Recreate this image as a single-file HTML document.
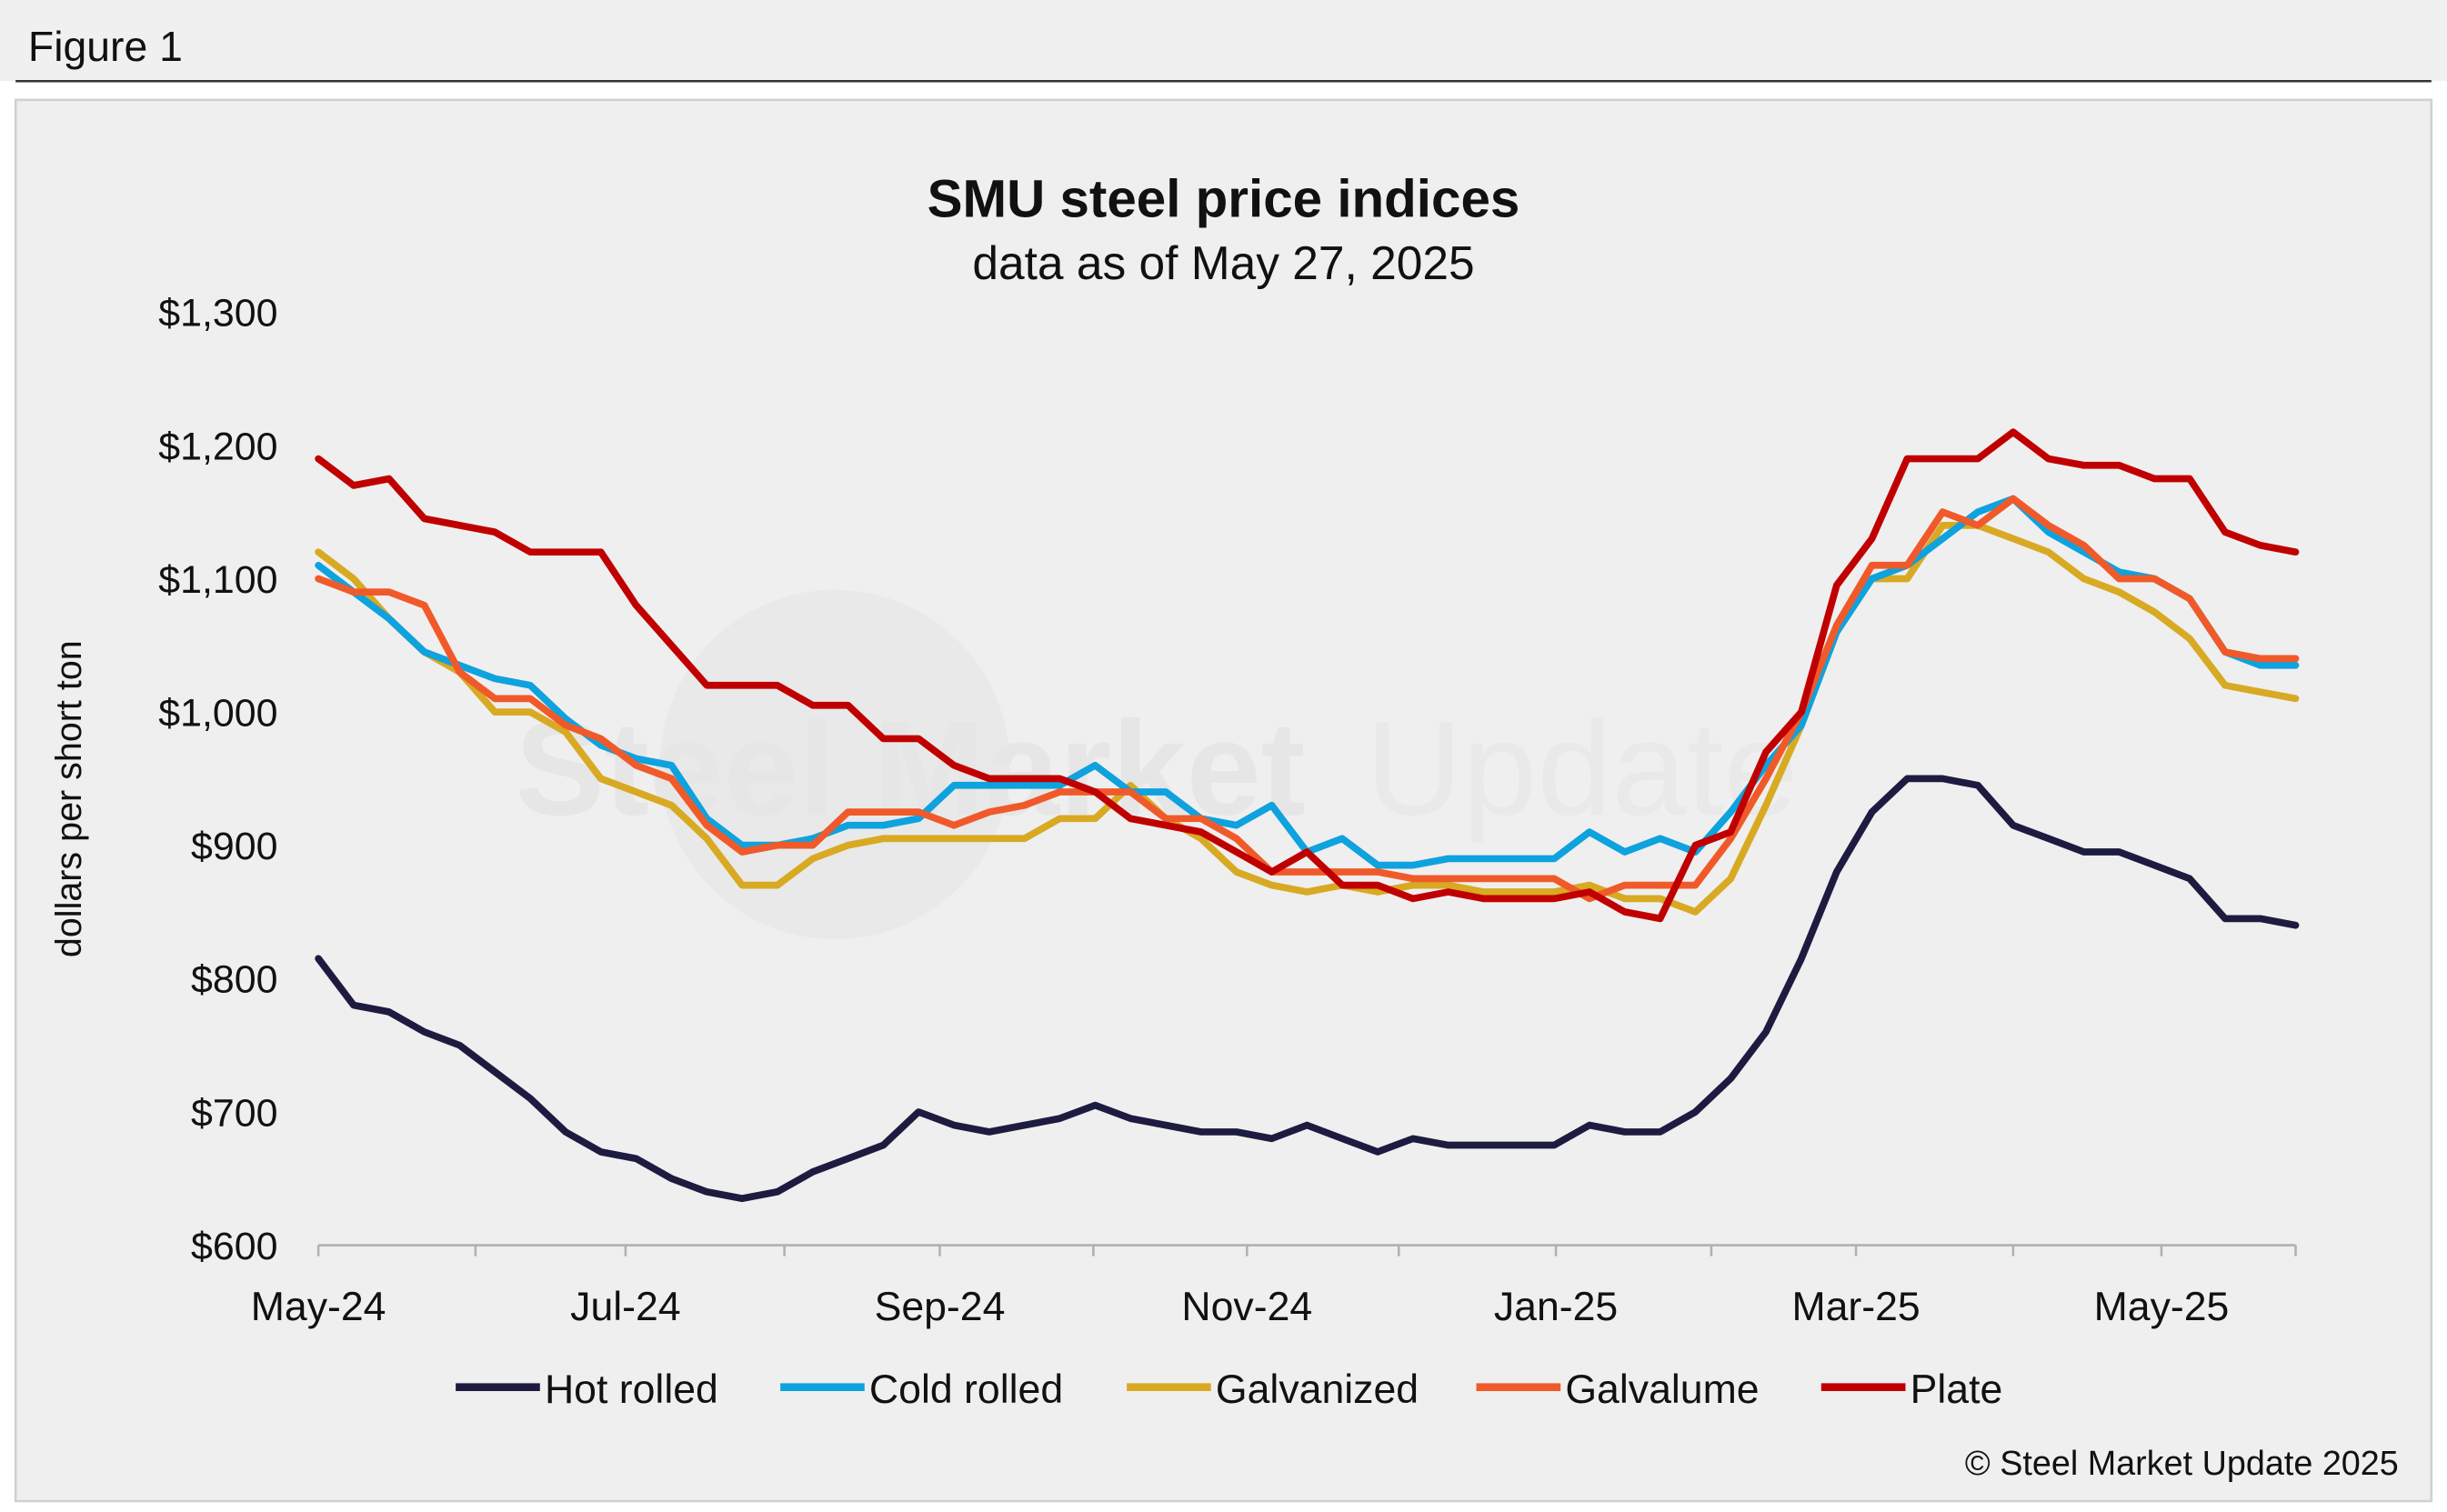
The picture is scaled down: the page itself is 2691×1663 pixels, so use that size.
<!DOCTYPE html>
<html><head><meta charset="utf-8"><style>
html,body{margin:0;padding:0;background:#fff;}
svg{display:block;font-family:"Liberation Sans",Arial,sans-serif;}
</style></head><body>
<svg id="chart" width="2691" height="1663" viewBox="0 0 1568 969" xmlns="http://www.w3.org/2000/svg">
<rect x="0" y="0" width="1568" height="969" fill="#ffffff"/>
<rect x="0" y="0" width="1568" height="52" fill="#f0f0f0"/>
<text x="18" y="39" font-size="27" fill="#111">Figure 1</text>
<line x1="10" y1="52" x2="1558" y2="52" stroke="#333" stroke-width="1.5"/>
<rect x="10" y="64" width="1548" height="898" fill="#efefef" stroke="#d0d0d0" stroke-width="1.5"/>
<g opacity="0.45">
<circle cx="535" cy="490" r="112" fill="#e2e2e2"/>
<text x="330" y="522" font-size="86" font-weight="bold" fill="#dcdcdc">Steel Market</text>
<text x="875" y="522" font-size="86" fill="#e3e3e3">Update</text>
</g>
<text x="784" y="139" text-anchor="middle" font-size="34" font-weight="bold" fill="#111">SMU steel price indices</text>
<text x="784" y="179" text-anchor="middle" font-size="30" fill="#111">data as of May 27, 2025</text>
<text transform="translate(52,512) rotate(-90)" text-anchor="middle" font-size="23" fill="#111">dollars per short ton</text>
<g id="axes"></g>
<g id="series"></g>
<g id="legend"></g>
<text x="1537" y="945" text-anchor="end" font-size="22" fill="#111">© Steel Market Update 2025</text>
</svg>
<script>
const yTicks=[600,700,800,900,1000,1100,1200,1300];
const xLabels=["May-24","Jul-24","Sep-24","Nov-24","Jan-25","Mar-25","May-25"];
const xLabelWeeks=[0,8.7,17.6,26.3,35.05,43.55,52.2];
const monthTickWeeks=[0,4.45,8.7,13.2,17.6,21.95,26.3,30.6,35.05,39.45,43.55,48,52.2,56];
const seriesNames=["Hot rolled","Cold rolled","Galvanized","Galvalume","Plate"];
const hotRolled=[815,780,775,760,750,730,710,685,670,665,650,640,635,640,655,665,675,700,690,685,690,695,705,695,690,685,685,680,690,680,670,680,675,675,675,675,690,685,685,700,725,760,815,880,925,950,950,945,915,905,895,895,885,875,845,845,840];
const coldRolled=[1110,1090,1070,1045,1035,1025,1020,995,975,965,960,920,900,900,905,915,915,920,945,945,945,945,960,940,940,920,915,930,895,905,885,885,890,890,890,890,910,895,905,895,925,960,990,1060,1100,1110,1130,1150,1160,1135,1120,1105,1100,1085,1045,1035,1035];
const galvanized=[1120,1100,1070,1045,1030,1000,1000,985,950,940,930,905,870,870,890,900,905,905,905,905,905,920,920,945,920,905,880,870,865,870,865,870,870,865,865,865,870,860,860,850,875,930,990,1060,1100,1100,1140,1140,1130,1120,1100,1090,1075,1055,1020,1015,1010];
const galvalume=[1100,1090,1090,1080,1030,1010,1010,990,980,960,950,915,895,900,900,925,925,925,915,925,930,940,940,940,920,920,905,880,880,880,880,875,875,875,875,875,860,870,870,870,905,950,1000,1065,1110,1110,1150,1140,1160,1140,1125,1100,1100,1085,1045,1040,1040];
const plate=[1190,1170,1175,1145,1140,1135,1120,1120,1120,1080,1050,1020,1020,1020,1005,1005,980,980,960,950,950,950,940,920,915,910,895,880,895,870,870,860,865,860,860,860,865,850,845,900,910,970,1000,1095,1130,1190,1190,1190,1210,1190,1185,1185,1175,1175,1135,1125,1120];
const colors=["#1e1b40","#0ea2de","#d8a922","#f05a2a","#c00000"];
const NS="http://www.w3.org/2000/svg";
const X0=204,X1=1471,NW=56,Y0=798,Y1=200;
function xs(w){return X0+(X1-X0)*w/NW;}
function ys(v){return Y0-(v-600)*(Y0-Y1)/700;}
function mk(tag,attrs,parent,txt){const e=document.createElementNS(NS,tag);for(const k in attrs)e.setAttribute(k,attrs[k]);if(txt!==undefined)e.textContent=txt;parent.appendChild(e);return e;}
const axes=document.getElementById('axes');
yTicks.forEach(v=>{
  const t=mk('text',{x:178,y:ys(v)+9,'text-anchor':'end','font-size':25,fill:'#111'},axes,'$'+v.toLocaleString('en-US'));
  
  
});
const ax=mk('line',{x1:X0,y1:Y0,x2:X1,y2:Y0,stroke:'#b0b0b0','stroke-width':1.5},axes);


monthTickWeeks.forEach(w=>{
  const l=mk('line',{x1:xs(w),y1:Y0,x2:xs(w),y2:Y0+7,stroke:'#b0b0b0','stroke-width':1.5},axes);
  
  
});
xLabels.forEach((s,i)=>{
  const t=mk('text',{x:xs(xLabelWeeks[i]),y:846,'text-anchor':'middle','font-size':26,fill:'#111'},axes,s);
  
  
});
const sg=document.getElementById('series');
const data=[hotRolled,coldRolled,galvanized,galvalume,plate];
const order=[0,2,1,3,4];
order.forEach(k=>{
  const pts=data[k].map((v,i)=>xs(i).toFixed(1)+','+ys(v).toFixed(1)).join(' ');
  const p=mk('polyline',{points:pts,fill:'none',stroke:colors[k],'stroke-width':4.5,'stroke-linejoin':'round','stroke-linecap':'round'},sg);
  
  
});
const lg=document.getElementById('legend');
const lx=[292,500,722,946,1167];
seriesNames.forEach((n,i)=>{
  const g=mk('g',{},lg);
  
  
  mk('line',{x1:lx[i],y1:889,x2:lx[i]+54,y2:889,stroke:colors[i],'stroke-width':5},g);
  mk('text',{x:lx[i]+57,y:899,'font-size':26,fill:'#111'},g,n);
});
</script>
</body></html>
